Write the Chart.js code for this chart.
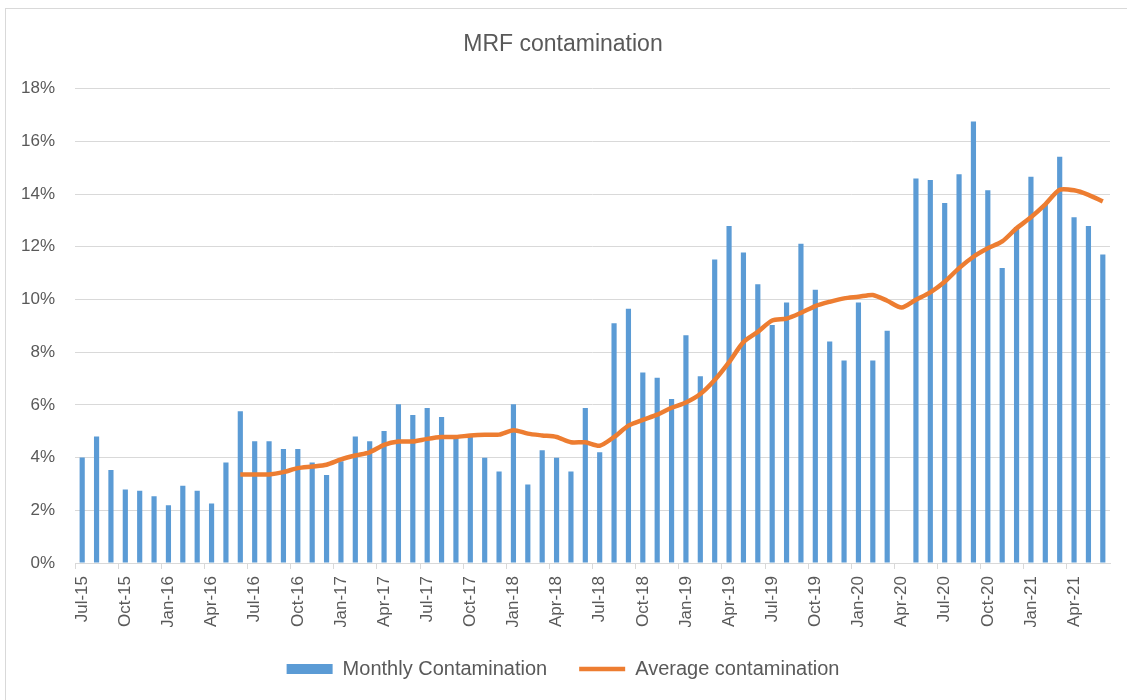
<!DOCTYPE html>
<html>
<head>
<meta charset="utf-8">
<script src="https://cdn.jsdelivr.net/npm/chart.js@4/dist/chart.umd.min.js"></script>
<style>
    html, body { margin: 0; padding: 0; background: #fff; overflow: hidden; }
    #frame {
        position: absolute; left: 5px; top: 8px;
        width: 1130px; height: 700px;
        border: 1px solid #d9d9d9;
        background: #fff;
    }
    #frame canvas { display: block; }
</style>
</head>
<body>
<div id="frame"><canvas id="chart" width="1130" height="692"></canvas></div>
<script>
const months = [
    'Jul-15', 'Aug-15', 'Sep-15', 'Oct-15', 'Nov-15', 'Dec-15',
    'Jan-16', 'Feb-16', 'Mar-16', 'Apr-16', 'May-16', 'Jun-16',
    'Jul-16', 'Aug-16', 'Sep-16', 'Oct-16', 'Nov-16', 'Dec-16',
    'Jan-17', 'Feb-17', 'Mar-17', 'Apr-17', 'May-17', 'Jun-17',
    'Jul-17', 'Aug-17', 'Sep-17', 'Oct-17', 'Nov-17', 'Dec-17',
    'Jan-18', 'Feb-18', 'Mar-18', 'Apr-18', 'May-18', 'Jun-18',
    'Jul-18', 'Aug-18', 'Sep-18', 'Oct-18', 'Nov-18', 'Dec-18',
    'Jan-19', 'Feb-19', 'Mar-19', 'Apr-19', 'May-19', 'Jun-19',
    'Jul-19', 'Aug-19', 'Sep-19', 'Oct-19', 'Nov-19', 'Dec-19',
    'Jan-20', 'Feb-20', 'Mar-20', 'Apr-20', 'May-20', 'Jun-20',
    'Jul-20', 'Aug-20', 'Sep-20', 'Oct-20', 'Nov-20', 'Dec-20',
    'Jan-21', 'Feb-21', 'Mar-21', 'Apr-21', 'May-21', 'Jun-21',
];

// monthly contamination, percent
const monthly = [
    4.0, 4.8, 3.53, 2.79, 2.74, 2.53,
    2.19, 2.93, 2.74, 2.26, 3.81, 5.76,
    4.62, 4.62, 4.33, 4.33, 3.81, 3.34,
    3.86, 4.8, 4.62, 5.01, 6.02, 5.62,
    5.88, 5.54, 4.78, 4.78, 3.99, 3.47,
    6.02, 2.98, 4.28, 3.99, 3.47, 5.88,
    4.2, 9.1, 9.65, 7.23, 7.03, 6.22,
    8.64, 7.09, 11.52, 12.79, 11.78, 10.58,
    9.03, 9.88, 12.11, 10.37, 8.4, 7.68,
    9.88, 7.68, 8.81, null, 14.59, 14.53,
    13.66, 14.75, 16.75, 14.14, 11.19, 12.75,
    14.66, 13.62, 15.41, 13.12, 12.79, 11.71,
];

// rolling average, percent (starts Jun-16)
const average = [
    null, null, null, null, null, null,
    null, null, null, null, null, 3.36,
    3.36, 3.36, 3.45, 3.6, 3.66, 3.73,
    3.93, 4.08, 4.2, 4.48, 4.61, 4.61,
    4.71, 4.78, 4.78, 4.84, 4.87, 4.87,
    5.04, 4.91, 4.84, 4.78, 4.58, 4.58,
    4.45, 4.78, 5.21, 5.43, 5.63, 5.89,
    6.09, 6.41, 6.94, 7.62, 8.38, 8.77,
    9.2, 9.27, 9.49, 9.75, 9.91, 10.04,
    10.1, 10.17, 9.95, 9.69, 9.99, 10.27,
    10.67, 11.19, 11.62, 11.94, 12.2, 12.7,
    13.12, 13.61, 14.16, 14.14, 13.97, 13.72,
];

const grey = '#595959';
const gridGrey = '#d9d9d9';
const fontFamily = '"Liberation Sans", Arial, sans-serif';

new Chart(document.getElementById('chart'), {
    type: 'bar',
    data: {
        labels: months,
        datasets: [
            {
                type: 'line',
                label: 'Average contamination',
                data: average,
                borderColor: '#ED7D31',
                backgroundColor: '#ED7D31',
                borderWidth: 4.5,
                pointRadius: 0,
                tension: 0.25,
                order: 0,
            },
            {
                label: 'Monthly Contamination',
                data: monthly,
                backgroundColor: '#5B9BD5',
                borderWidth: 0,
                barPercentage: 0.36,
                categoryPercentage: 1,
                order: 1,
            },
        ],
    },
    options: {
        responsive: false,
        animation: false,
        layout: { padding: { left: 10, right: 26, top: 10, bottom: 12 } },
        plugins: {
            title: {
                display: true,
                text: 'MRF contamination',
                color: grey,
                font: { family: fontFamily, size: 23, weight: 'normal' },
                padding: { top: 12, bottom: 30 },
            },
            legend: {
                position: 'bottom',
                reverse: true,
                labels: {
                    color: grey,
                    font: { family: fontFamily, size: 20 },
                    usePointStyle: true,
                    pointStyleWidth: 46,
                    boxHeight: 10,
                    padding: 32,
                    generateLabels: (chart) => {
                        const items = Chart.defaults.plugins.legend.labels.generateLabels(chart);
                        items.forEach((item) => {
                            item.pointStyle = item.datasetIndex === 0 ? 'line' : 'rect';
                        });
                        return items;
                    },
                },
            },
            tooltip: { enabled: false },
        },
        scales: {
            x: {
                grid: {
                    offset: true,
                    drawOnChartArea: false,
                    tickLength: 6,
                    color: (ctx) => (ctx.index % 3 === 0 || ctx.index === months.length ? gridGrey : 'transparent'),
                },
                border: { color: gridGrey },
                ticks: {
                    autoSkip: false,
                    minRotation: 90,
                    maxRotation: 90,
                    padding: 7,
                    color: grey,
                    font: { family: fontFamily, size: 17 },
                    callback: (value, index) => (index % 3 === 0 ? months[index] : ''),
                },
                afterFit: (scale) => { scale.height = 64; },
            },
            y: {
                min: 0,
                max: 18,
                grid: { color: gridGrey, drawTicks: false },
                border: { display: false },
                ticks: {
                    stepSize: 2,
                    padding: 20,
                    color: grey,
                    font: { family: fontFamily, size: 17 },
                    callback: (value) => value + '%',
                },
                afterFit: (scale) => { scale.width = 59; },
            },
        },
    },
});
</script>
</body>
</html>
